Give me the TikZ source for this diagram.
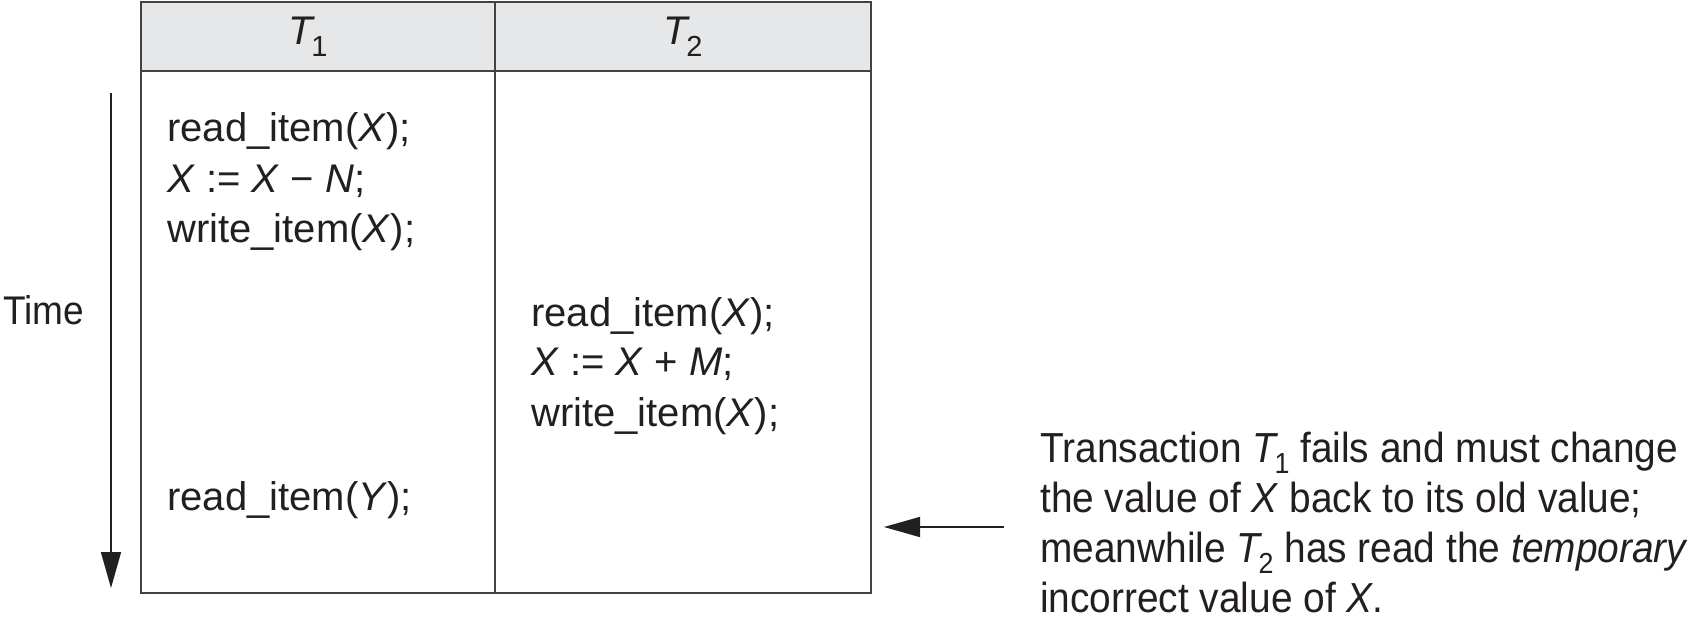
\documentclass[tikz,border=0pt]{standalone}
\usepackage{fontspec}
\setmainfont{Liberation Sans}
\newfontfamily\notefont[FakeStretch=0.925]{Liberation Sans}
\usetikzlibrary{arrows.meta}
\definecolor{hdr}{HTML}{E6E7E8}
\definecolor{ink}{HTML}{231F20}
\newcommand\Tsb[1]{\textit{T}\kern-4pt\smash{\raisebox{-0.28em}{\fontsize{29}{29}\selectfont #1}}}
\begin{document}
\begin{tikzpicture}[x=1pt,y=-1pt,
  txt/.style={anchor=base west,inner sep=0pt,font=\fontsize{40}{50}\selectfont,text=ink},
  hd/.style={anchor=base,inner sep=0pt,font=\fontsize{40}{50}\selectfont,text=ink},
  grid/.style={draw=ink!85,line width=2pt},
  arr/.style={draw=ink,line width=1.6pt,-{Triangle[length=36pt,width=20pt]}}]
\useasboundingbox (0,0) rectangle (1690,620);
% table
\fill[hdr] (141,2) rectangle (871,71);
\draw[grid] (141,2) rectangle (871,593);
\draw[grid] (141,71) -- (871,71);
\draw[grid] (495,2) -- (495,593);
% header
\node[hd] (h1) at (308,45) {\Tsb{1}};
\node[hd] (h2) at (683,45) {\Tsb{2}};
% T1 column
\node[txt] (a1) at (167,142) {read\_item(\textit{X});};
\node[txt] (a2) at (167,193) {\textit{X} :=~\textit{X} − \textit{N};};
\node[txt] (a3) at (167,243) {write\_item(\textit{X});};
\node[txt] (a4) at (167,510) {read\_item(\textit{Y});};
% T2 column
\node[txt] (b1) at (531,327) {read\_item(\textit{X});};
\node[txt] (b2) at (531,376) {\textit{X} :=~\textit{X} + \textit{M};};
\node[txt] (b3) at (531,426) {write\_item(\textit{X});};
% time
\node[txt,font=\notefont\fontsize{40}{50}\selectfont] (time) at (3,325) {Time};
\coordinate (ts) at (111,93);
\coordinate (te) at (111,588);
\draw[arr] (ts) -- (te);
% note
\node[anchor=base west,inner sep=0pt,align=left,font=\notefont\fontsize{42}{50}\selectfont,text=ink] (note) at (1040,612)
{Transaction \Tsb{1} fails and must change\\
the value of \textit{X} back to its old value;\\
meanwhile \Tsb{2} has read the \textit{temporary}\\
incorrect value of \textit{X}.};
\coordinate (ns) at (1004,527);
\coordinate (ne) at (884,527);
\draw[arr] (ns) -- (ne);
\end{tikzpicture}
\end{document}
